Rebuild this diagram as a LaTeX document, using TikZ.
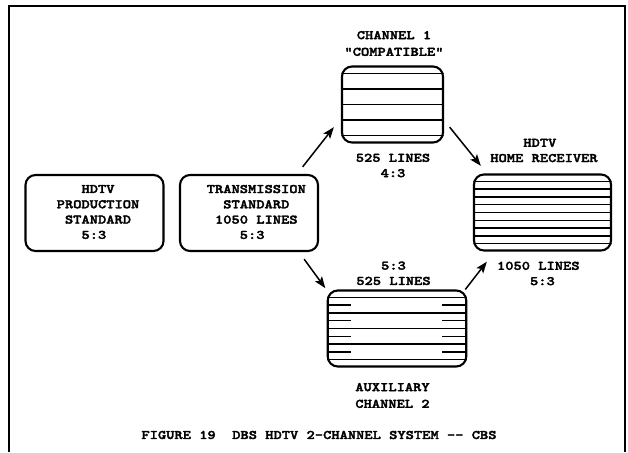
\documentclass[tikz,border=0pt]{standalone}
\usepackage{fontspec}
\newfontfamily\courfont{lmmonolt10-bold.otf}[FakeStretch=1.21, FakeBold=2.5]
\usetikzlibrary{calc,arrows.meta}
\newcommand{\hc}{\kern.635em}
\newcommand{\scanlines}[2]{%
    \begin{scope}
        \clip[rounded corners=10pt] (#1.north west) rectangle (#1.south east);
        \foreach \k in {1,...,9} {
            \pgfmathtruncatemacro{\isodd}{mod(\k,2)}
            \ifnum\isodd=1
                \draw[scan] ($(#1.north west)!\k/10!(#1.south west)$) -- ($(#1.north east)!\k/10!(#1.south east)$);
            \else
                \ifnum#2=2 \draw[scan] ($(#1.north west)!\k/10!(#1.south west)$) -- ($(#1.north east)!\k/10!(#1.south east)$); \fi
                \ifnum#2=0
                    \draw[scan] ($(#1.north west)!\k/10!(#1.south west)$) -- ++(24,0);
                    \draw[scan] ($(#1.north east)!\k/10!(#1.south east)$) -- ++(-25,0);
                \fi
            \fi
        }
    \end{scope}
}

\begin{document}
\begin{tikzpicture}[
        x=1pt, y=-1pt,
        screen/.style={draw, line width=2.1pt, rounded corners=10pt, minimum height=76pt, inner sep=0pt},
        scan/.style={line width=1.4pt},
        txt/.style={align=center, inner sep=0pt, font=\courfont\fontsize{13}{15.3}\selectfont},
        link/.style={line width=1.5pt, -{Stealth[length=11.5pt,width=8.5pt,inset=2.5pt]}},
    ]
    \useasboundingbox (0,0) rectangle (628,452);

    % Frame, open at the bottom
    \draw[line width=2pt] (9,452) -- (9,6.5) -- (625,6.5) -- (625,452);

    % Screens
    \node[screen, minimum width=138pt] (prod) at (94.5,213) {};
    \node[screen, minimum width=138pt] (trans) at (249,213) {};
    \node[screen, minimum width=101pt] (ch1) at (392.5,104.5) {};
    \node[screen, minimum width=137pt] (recv) at (542.5,212.5) {};
    \node[screen, minimum width=138.5pt] (aux) at (397,328.5) {};

    % Raster lines: 1 = every other line, 2 = all lines, 0 = every other line with stubs
    \scanlines{ch1}{1}
    \scanlines{recv}{2}
    \scanlines{aux}{0}

    % Texts
    \node[txt] (prodtxt) at (98,212) {HDTV\\PRODUCTION\\STANDARD\\5:3\hc};
    \node[txt] (transtxt) at (256.3,212) {TRANSMISSION\\STANDARD\\1050 LINES\\5:3\hc};
    \node[txt] (ch1top) at (394,43.5) {CHANNEL 1\\[1.4pt]“COMPATIBLE”};
    \node[txt] (ch1bot) at (393,165.5) {525 LINES\\4:3};
    \node[txt] (recvtop) at (544,150.5) {HDTV\hc\\HOME RECEIVER};
    \node[txt] (recvbot) at (538.3,273.5) {1050 LINES\\\hc 5:3};
    \node[txt] (auxtop) at (393.5,273.3) {5:3\\525 LINES};
    \node[txt] (auxbot) at (392.5,395.5) {AUXILIARY\\[1.4pt]CHANNEL 2};
    \node[txt] (fig) at (319,435) {FIGURE 19\ \ DBS HDTV 2-CHANNEL SYSTEM -{}- CBS};

    % Arrows
    \draw[link] ($(trans.north east)+(-16.4,-7.1)$) -- ($(ch1.south west)+(-7.1,-16.4)$);
    \draw[link] ($(ch1.south east)+(5.6,-16.4)$) -- ($(recv.north west)+(7.9,-7.6)$);
    \draw[link] ($(trans.south east)+(-14.9,7.1)$) -- ($(aux.north west)+(-1.4,-1.3)$);
    \draw[link] ($(aux.north east)+(-2,0)$) -- ($(recv.south west)+(13.9,10.1)$);
\end{tikzpicture}
\end{document}
